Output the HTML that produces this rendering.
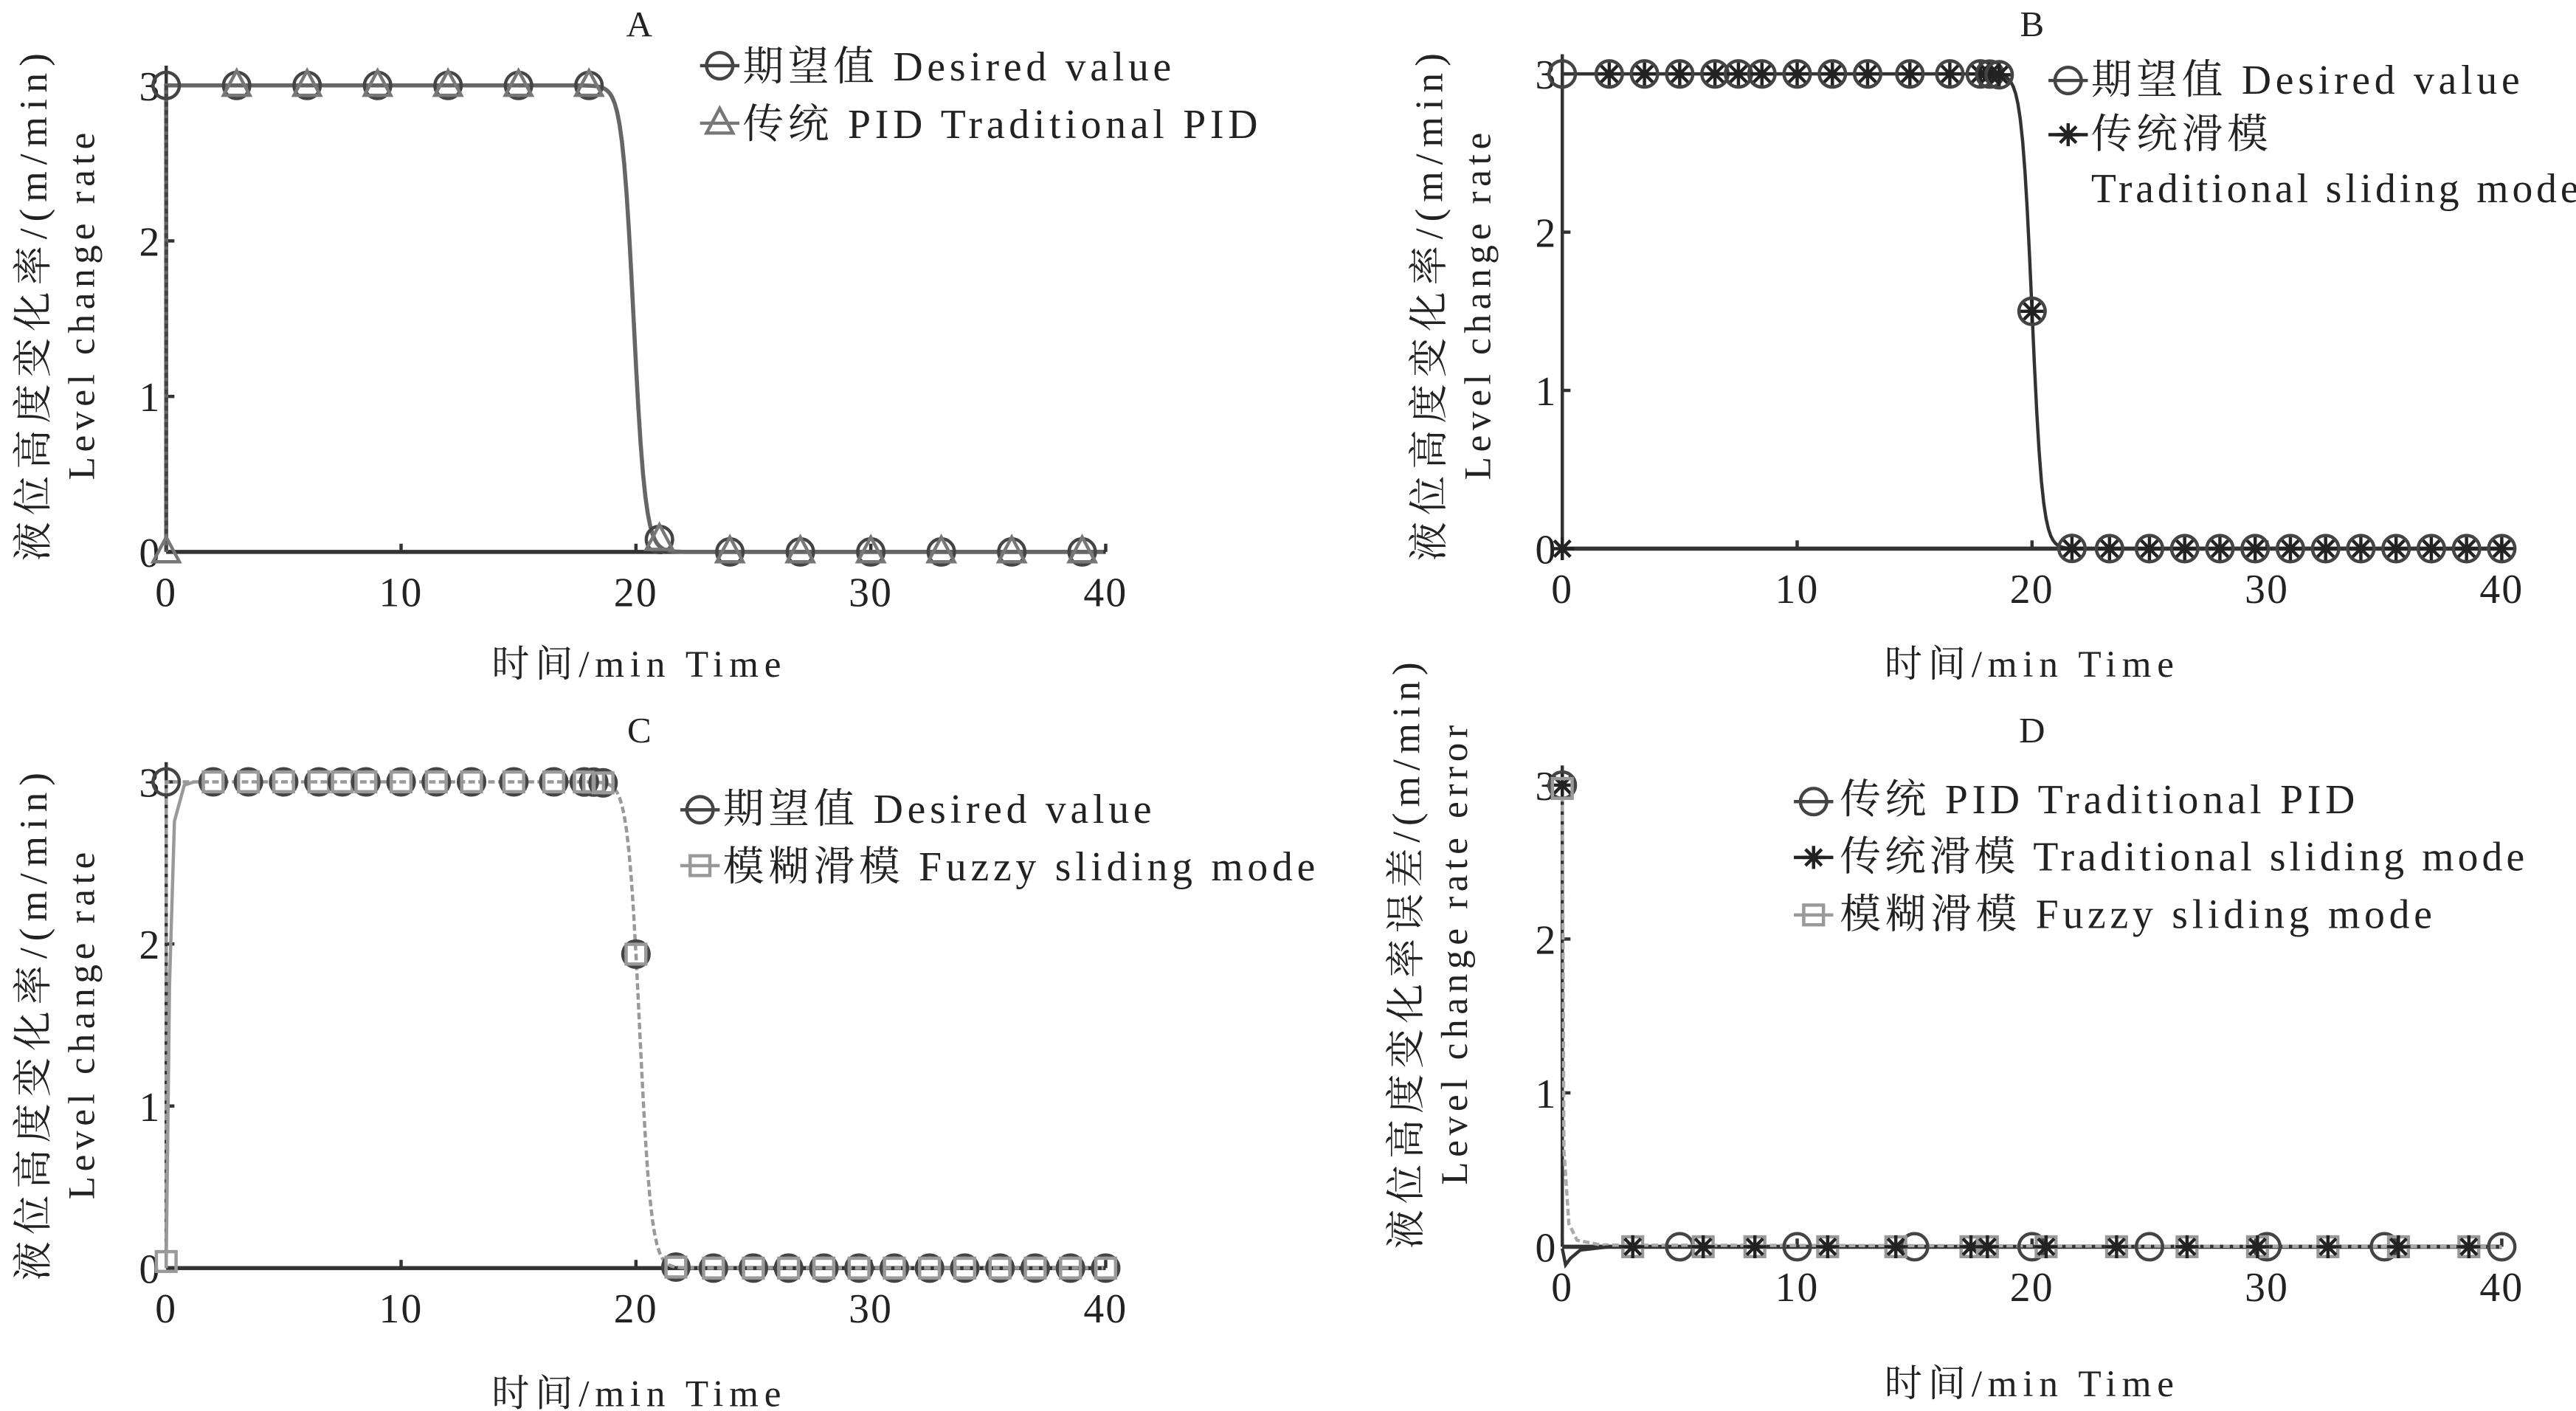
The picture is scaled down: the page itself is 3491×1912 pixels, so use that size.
<!DOCTYPE html>
<html><head><meta charset="utf-8"><style>
html,body{margin:0;padding:0;background:#fff}
svg{display:block}
text{font-family:"Liberation Serif","Noto Serif CJK SC",serif;fill:#222}
</style></head><body>
<svg id="s" width="3491" height="1912" viewBox="0 0 1568 859" xmlns="http://www.w3.org/2000/svg">
<rect width="1568" height="859" fill="#fff"/>
<g font-size="22">
<text x="389" y="22" text-anchor="middle">A</text>
<text x="1237" y="22" text-anchor="middle">B</text>
<text x="389" y="452" text-anchor="middle">C</text>
<text x="1237" y="452" text-anchor="middle">D</text>
<g font-size="23" letter-spacing="3.5">
<text x="389" y="412" text-anchor="middle">时间/min Time</text>
<text x="1237" y="412" text-anchor="middle">时间/min Time</text>
<text x="389" y="856" text-anchor="middle">时间/min Time</text>
<text x="1237" y="850" text-anchor="middle">时间/min Time</text>
</g>
<text transform="translate(28,185) rotate(-90)" text-anchor="middle" font-size="24" letter-spacing="4">液位高度变化率/(m/min)</text>
<text transform="translate(57,185) rotate(-90)" text-anchor="middle" font-size="23" letter-spacing="3">Level change rate</text>
<text transform="translate(878,185) rotate(-90)" text-anchor="middle" font-size="24" letter-spacing="4">液位高度变化率/(m/min)</text>
<text transform="translate(907,185) rotate(-90)" text-anchor="middle" font-size="23" letter-spacing="3">Level change rate</text>
<text transform="translate(28,623) rotate(-90)" text-anchor="middle" font-size="24" letter-spacing="4">液位高度变化率/(m/min)</text>
<text transform="translate(57,623) rotate(-90)" text-anchor="middle" font-size="23" letter-spacing="3">Level change rate</text>
<text transform="translate(864,580) rotate(-90)" text-anchor="middle" font-size="24" letter-spacing="3.5">液位高度变化率误差/(m/min)</text>
<text transform="translate(893,580) rotate(-90)" text-anchor="middle" font-size="23" letter-spacing="3">Level change rate error</text>
</g>
<g id="plots"></g>
<g font-size="25" letter-spacing="2.6">
<text x="452" y="49">期望值 Desired value</text>
<text x="452" y="84">传统 PID  Traditional PID</text>
<text x="1273" y="57">期望值 Desired value</text>
<text x="1273" y="90">传统滑模</text>
<text x="1273" y="123" letter-spacing="2.2">Traditional sliding mode</text>
<text x="440" y="501">期望值 Desired value</text>
<text x="440" y="536">模糊滑模 Fuzzy sliding mode</text>
<text x="1120" y="495">传统 PID Traditional PID</text>
<text x="1120" y="530" letter-spacing="2.3">传统滑模 Traditional sliding mode</text>
<text x="1120" y="565">模糊滑模 Fuzzy sliding mode</text>
</g>
<script><![CDATA[
var NS="http://www.w3.org/2000/svg",P=document.getElementById("plots");
function el(t,a){var e=document.createElementNS(NS,t);for(var k in a)e.setAttribute(k,a[k]);P.appendChild(e);return e;}
function circ(x,y,c){el("circle",{cx:x,cy:y,r:8,fill:"none",stroke:c||"#444","stroke-width":2});}
function tri(x,y){el("polygon",{points:(x)+","+(y-9)+" "+(x-8)+","+(y+6)+" "+(x+8)+","+(y+6),fill:"none",stroke:"#777","stroke-width":2});}
function star(x,y){var s="";for(var i=0;i<4;i++){var a=i*Math.PI/4;s+="M"+(x-7*Math.cos(a))+","+(y-7*Math.sin(a))+"L"+(x+7*Math.cos(a))+","+(y+7*Math.sin(a));}el("path",{d:s,stroke:"#222","stroke-width":2,fill:"none"});}
function sq(x,y){el("rect",{x:x-6,y:y-6,width:12,height:12,fill:"none",stroke:"#999","stroke-width":2});}
function axes(x0,x1,y0,y3){
 el("line",{x1:x0,y1:y0,x2:x1,y2:y0,stroke:"#333","stroke-width":2.5});
 el("line",{x1:x0,y1:y0,x2:x0,y2:y3-12,stroke:"#333","stroke-width":2});
 for(var i=0;i<=4;i++){var x=x0+(x1-x0)*i/4;el("line",{x1:x,y1:y0,x2:x,y2:y0-5,stroke:"#333","stroke-width":2});
  var t=el("text",{x:x,y:y0+33,"text-anchor":"middle","font-size":"25","letter-spacing":"1"});t.textContent=i*10;}
 for(var j=0;j<=3;j++){var y=y0+(y3-y0)*j/3;el("line",{x1:x0,y1:y,x2:x0+5,y2:y,stroke:"#333","stroke-width":2});
  var t=el("text",{x:x0-4,y:y+9,"text-anchor":"end","font-size":"25"});t.textContent=j;}
}
function sig(t,tc,k){return 3/(1+Math.exp((t-tc)*k));}
function curve(x0,x1,y0,y3,tc,k,col,w,dash){
 var d="M"+x0+","+y0+"L"+x0+","+y3;
 for(var t=0.3;t<=40;t+=0.1){var v=sig(t,tc,k);d+="L"+(x0+(x1-x0)*t/40)+","+(y0+(y3-y0)*v/3);}
 el("path",{d:d,fill:"none",stroke:col,"stroke-width":w,"stroke-dasharray":dash||"none"});
}
function X(x0,x1,t){return x0+(x1-x0)*t/40;}
function Y(y0,y3,v){return y0+(y3-y0)*v/3;}
// A
axes(101,673,336,52);
curve(101,673,336,52,19.9,4,"#666",2.5);
el("line",{x1:101,y1:52,x2:101,y2:336,stroke:"#444","stroke-width":2,"stroke-dasharray":"3,2"});
circ(101,52);tri(101,336);
for(var t=3;t<=39;t+=3){var v=t<20?3:(t==21?0.08:0);circ(X(101,673,t),Y(336,52,v));tri(X(101,673,t),Y(336,52,v));}
legendLine=function(x,y,c){el("line",{x1:x-12,y1:y,x2:x+12,y2:y,stroke:c,"stroke-width":2});};
legendLine(438,40,"#444");circ(438,40);legendLine(438,75,"#777");tri(438,75);
// B
axes(951,1523,334,45);
curve(951,1523,334,45,20.0,4.5,"#333",2);
var tb=[2,3.5,5,6.5,7.5,8.5,10,11.5,13,14.8,16.5,17.8,18.2,18.6,20,21.7,23.3,25,26.5,28,29.5,31,32.5,34,35.5,37,38.5,40];
circ(951,45);star(951,334);
tb.forEach(function(t){var v=sig(t,20.0,4.5);var x=X(951,1523,t),y=Y(334,45,v);circ(x,y);star(x,y);});
legendLine(1259,49,"#444");circ(1259,49);legendLine(1259,82,"#222");star(1259,82);
// C
axes(101,673,772,476);
curve(101,673,772,476,20.15,4,"#999",2,"4,2");
el("path",{d:"M101,770 L103,600 L106,500 L112,478 L118,476",fill:"none",stroke:"#999","stroke-width":2});
var tcx=[0,2,3.5,5,6.5,7.5,8.5,10,11.5,13,14.8,16.5,17.8,18.2,18.6,20,21.7,23.3,25,26.5,28,29.5,31,32.5,34,35.5,37,38.5,40];
tcx.forEach(function(t){var v=t==0?3:sig(t,20.15,4);var x=X(101,673,t),y=Y(772,476,v);circ(x,y);if(t>0)sq(x,y);});
sq(101,768);
legendLine(426,493,"#444");circ(426,493);legendLine(426,527,"#999");sq(426,527);
// D
axes(951,1523,759,478);
el("path",{d:"M951,478 L952,700 L955,745 L960,755 L975,758 L1523,759",fill:"none",stroke:"#aaa","stroke-width":2,"stroke-dasharray":"4,2"});
el("path",{d:"M951,760 L953,770 L956,766 L962,761 L980,759",fill:"none",stroke:"#333","stroke-width":2});
circ(951,478);star(951,478);sq(951,480);
[5,10,15,20,25,30,35,40].forEach(function(t){circ(X(951,1523,t),759);});
[3,6,8.2,11.3,14.2,17.4,18.1,20.6,23.6,26.6,29.6,32.6,35.6,38.6].forEach(function(t){var x=X(951,1523,t);sq(x,759);star(x,759);});
legendLine(1104,488,"#444");circ(1104,488);legendLine(1104,522,"#222");star(1104,522);legendLine(1104,557,"#999");sq(1104,557);
]]></script>
</svg>
</body></html>
